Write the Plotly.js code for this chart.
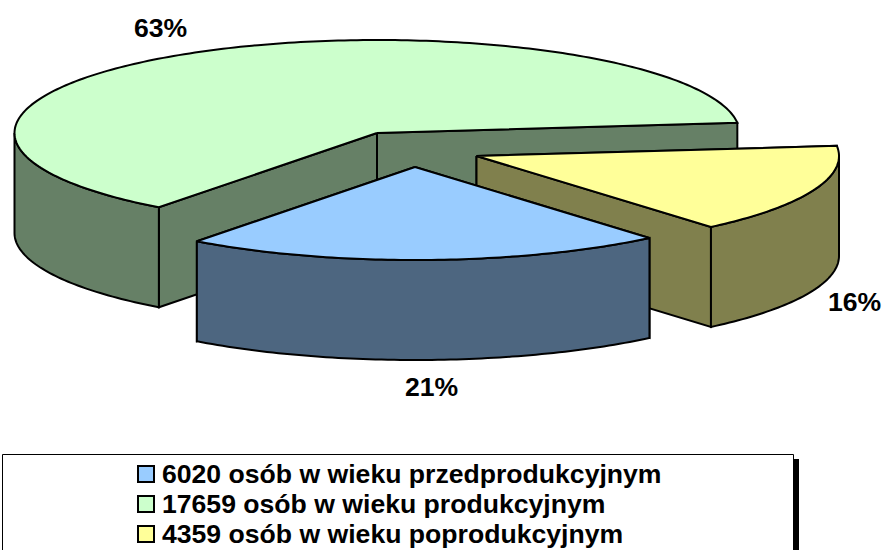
<!DOCTYPE html>
<html>
<head>
<meta charset="utf-8">
<script src="https://cdn.plot.ly/plotly-3.0.1.min.js"></script>
<style>html,body{margin:0;padding:0;background:#fff;overflow:hidden}#chart{width:882px;height:550px}</style>
</head>
<body>
<div id="chart"></div>
<script>
// Data
var values = [6020, 17659, 4359];
var labels = ['6020 osób w wieku przedprodukcyjnym', '17659 osób w wieku produkcyjnym', '4359 osób w wieku poprodukcyjnym'];

// Style
var topColors = ['#99ccff', '#ccffcc', '#ffff99'];
var sideColors = ['#4d6680', '#668066', '#80804d'];
var FONT = 'Liberation Sans, Arial, sans-serif';
var EDGE = 2;
var TEXT_SIZE = 26.6;

// 3D projection and placement, in page pixels
var RX = 362.5, RY = 93, DEPTH = 100, START = 310.3;
var centres = [[415, 167], [377, 133], [476.5, 156]];
var pctPos = [[431, 387], [160, 28], [854, 302]];
var drawOrder = [1, 2, 0];
var legendX = 146, legendTextX = 161, legendY = [474, 504, 534];

var total = values.reduce(function (a, b) { return a + b; }, 0);
var spans = [], cur = START;
values.forEach(function (v) {
  var hi = cur, lo = cur - v / total * 360;
  if (lo < 0) { lo += 360; hi += 360; }
  spans.push([lo, hi]);
  cur = cur - v / total * 360;
  if (cur < 0) cur += 360;
});

function pt(c, t, dz) {
  var r = t * Math.PI / 180;
  return [c[0] + RX * Math.cos(r), c[1] - RY * Math.sin(r) + dz];
}
function arc(c, a, b, dz) {
  var out = [], n = Math.max(2, Math.ceil(Math.abs(b - a)));
  for (var i = 0; i <= n; i++) out.push(pt(c, a + (b - a) * i / n, dz));
  return out;
}
function poly(points, color) {
  var x = points.map(function (p) { return p[0]; });
  var y = points.map(function (p) { return p[1]; });
  x.push(x[0]); y.push(y[0]);
  return { type: 'scatter', mode: 'lines', x: x, y: y, fill: 'toself', fillcolor: color,
    line: { color: '#000', width: EDGE, simplify: false, shape: 'linear' }, hoverinfo: 'skip', showlegend: false };
}

var traces = [];
drawOrder.forEach(function (i) {
  var c = centres[i], lo = spans[i][0], hi = spans[i][1];
  // back wall first, so the nearer wall covers it
  [lo, hi].sort(function (p, q) { return pt(c, p, 0)[1] - pt(c, q, 0)[1]; }).forEach(function (t) {
    var e = pt(c, t, 0), e2 = pt(c, t, DEPTH);
    traces.push(poly([c, e, e2, [c[0], c[1] + DEPTH]], sideColors[i]));
  });
  var a = Math.max(lo, 180), b = Math.min(hi, 360);
  if (b > a) {
    traces.push(poly(arc(c, a, b, 0).concat(arc(c, b, a, DEPTH)), sideColors[i]));
  }
  traces.push(poly([c].concat(arc(c, lo, hi, 0)), topColors[i]));
});

// legend swatches
traces.push({
  type: 'scatter', mode: 'markers',
  x: legendY.map(function () { return legendX; }), y: legendY,
  marker: { symbol: 'square', size: 16, color: topColors, line: { color: '#000', width: 2 } },
  hoverinfo: 'skip', showlegend: false
});

var annotations = [];
values.forEach(function (v, i) {
  annotations.push({ x: pctPos[i][0], y: pctPos[i][1], xref: 'x', yref: 'y', showarrow: false,
    text: Math.round(v / total * 100) + '%', font: { family: FONT, size: TEXT_SIZE, color: '#000', weight: 700 } });
  annotations.push({ x: legendTextX, y: legendY[i], xref: 'x', yref: 'y', xanchor: 'left', yanchor: 'middle', showarrow: false,
    borderpad: 0, text: labels[i], font: { family: FONT, size: TEXT_SIZE, color: '#000', weight: 700 } });
});

var layout = {
  width: 882, height: 550, margin: { l: 0, r: 0, t: 0, b: 0 },
  paper_bgcolor: '#fff', plot_bgcolor: '#fff', showlegend: false,
  xaxis: { range: [0, 882], visible: false, fixedrange: true },
  yaxis: { range: [550, 0], visible: false, fixedrange: true },
  shapes: [
    { type: 'rect', xref: 'x', yref: 'y', x0: 793, x1: 799, y0: 459, y1: 560, fillcolor: '#000', line: { width: 0 }, layer: 'below' },
    { type: 'rect', xref: 'x', yref: 'y', x0: 2.5, x1: 793.5, y0: 454.5, y1: 560, fillcolor: '#fff', line: { color: '#000', width: 1 }, layer: 'below' }
  ],
  annotations: annotations
};
Plotly.newPlot('chart', traces, layout, { displayModeBar: false, staticPlot: true });
</script>
</body>
</html>
